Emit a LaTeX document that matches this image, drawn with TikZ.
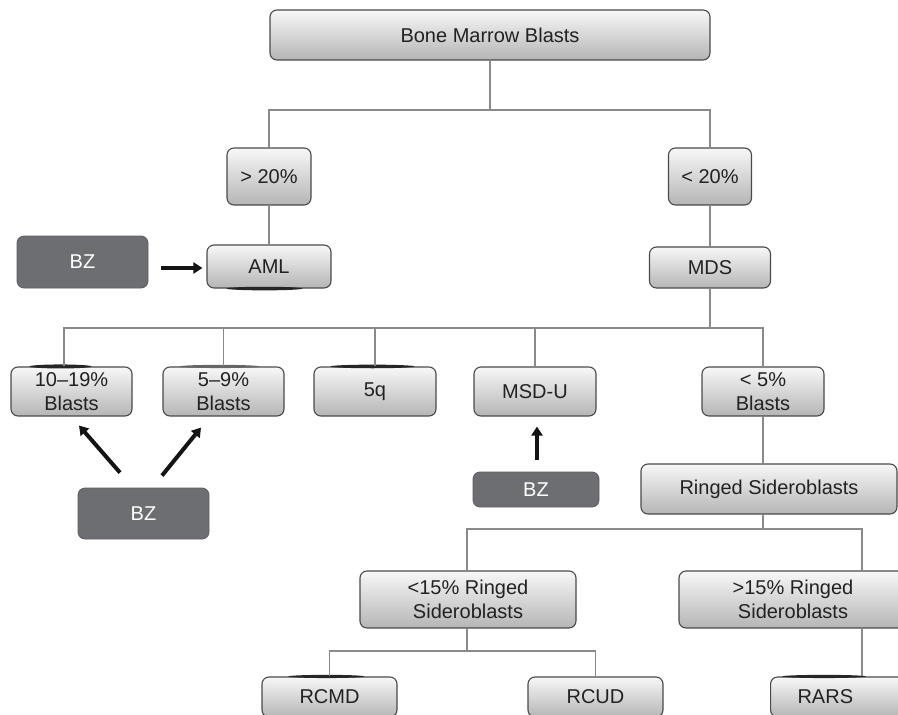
\documentclass[tikz,border=0pt]{standalone}
\usepackage{fontspec}
\setmainfont{Liberation Sans}
\usetikzlibrary{arrows.meta,calc}
\definecolor{bzgray}{HTML}{6D6E71}
\definecolor{linegray}{HTML}{8A8A8A}
\definecolor{boxedge}{HTML}{4A4A4A}
\definecolor{txt}{HTML}{222222}
\tikzset{
  gbox/.style={draw=boxedge, line width=1.1pt, rounded corners=7pt,
    top color=white!97!black, bottom color=black!29, inner sep=0pt,
    align=center, text=txt, font=\fontsize{20}{23.5}\selectfont},
  bzbox/.style={fill=bzgray, draw=bzgray!85!black, line width=0.8pt,
    rounded corners=7pt, inner sep=0pt, text=white,
    font=\fontsize{20}{23.5}\selectfont},
  conn/.style={draw=linegray, line width=1.2pt},
  arr/.style={draw=black!92, line width=4pt, -{Triangle[length=9pt,width=11pt]}},
  smudge/.style={fill=black!85},
  lightsmudge/.style={fill=black!60},
}
\begin{document}
\begin{tikzpicture}[x=1pt,y=-1pt]
\useasboundingbox (0,0) rectangle (898,715);
\clip (0,0) rectangle (898,715);
% nodes
\node[gbox, minimum width=440pt, minimum height=50pt] (bmb) at (490,35) {Bone Marrow Blasts};
\node[gbox, minimum width=84pt, minimum height=57pt] (gt20) at (269,176.5) {> 20\%};
\node[gbox, minimum width=83pt, minimum height=57pt] (lt20) at (710,176.5) {< 20\%};
\node[bzbox, minimum width=131pt, minimum height=52pt] (bz1) at (82.5,262) {BZ};
\node[gbox, minimum width=124pt, minimum height=43pt] (aml) at (269,266.5) {AML};
\node[gbox, minimum width=121pt, minimum height=41pt] (mds) at (710,267.5) {MDS};
\node[gbox, minimum width=121pt, minimum height=49pt] (b1019) at (71.5,391.5) {10–19\%\\Blasts};
\node[gbox, minimum width=121pt, minimum height=49pt] (b59) at (223.5,391.5) {5–9\%\\Blasts};
\node[gbox, minimum width=122pt, minimum height=49pt] (q5) at (375,391.5) {5q};
\node[gbox, minimum width=122pt, minimum height=49pt] (msdu) at (535,391.5) {MSD-U};
\node[gbox, minimum width=122pt, minimum height=49pt] (lt5) at (763,391.5) {< 5\%\\Blasts};
\node[bzbox, minimum width=131pt, minimum height=51pt] (bz2) at (143.5,513.5) {BZ};
\node[bzbox, minimum width=126pt, minimum height=35pt] (bz3) at (536,489.5) {BZ};
\node[gbox, minimum width=256pt, minimum height=50pt] (ring) at (769,489) {Ringed Sideroblasts};
\node[gbox, minimum width=216pt, minimum height=57pt] (lt15) at (468,599.5) {<15\% Ringed\\Sideroblasts};
\node[gbox, minimum width=228pt, minimum height=57pt] (gt15) at (793,599.5) {>15\% Ringed\\Sideroblasts};
\node[gbox, minimum width=135pt, minimum height=40pt] (rcmd) at (329.5,697) {RCMD};
\node[gbox, minimum width=135pt, minimum height=40pt] (rcud) at (595.5,697) {RCUD};
\node[gbox, minimum height=40pt, anchor=west, text width=80pt, inner xsep=27pt, align=left] (rars) at (770,697) {RARS};
% dark smudges along some box edges (as in the scan)
\fill[smudge] ($(b1019.north west)+(50,0)$) ellipse (31pt and 2pt);
\fill[lightsmudge] ($(b59.north west)+(57,0)$) ellipse (40pt and 1.6pt);
\fill[smudge] ($(q5.north west)+(59,0)$) ellipse (42pt and 1.8pt);
\fill[smudge] ($(aml.south west)+(58,0)$) ellipse (38pt and 1.8pt);
\fill[smudge] ($(rcmd.north west)+(65,0)$) ellipse (38pt and 1.6pt);
\fill[smudge] ($(rars.north west)+(54,0)$) ellipse (42pt and 1.6pt);
% junction coordinates
\coordinate (j1) at (490,110);
\coordinate (j2) at (710,328);
\coordinate (d1) at (64,328);
\coordinate (j3) at (763,529);
\coordinate (d7) at (862,529);
\coordinate (j4) at (467,651);
% connectors
\draw[conn] (bmb.south) -- (j1);
\draw[conn] (gt20.north) -- (gt20.north |- j1) -- (lt20.north |- j1) -- (lt20.north);
\draw[conn] (gt20.south) -- (aml.north);
\draw[conn] (lt20.south) -- (mds.north);
\draw[conn] (mds.south) -- (j2);
\draw[conn] (d1 |- b1019.north) -- (d1) -- (lt5.north |- j2) -- (lt5.north);
\draw[conn] (b59.north |- j2) -- (b59.north);
\draw[conn] (q5.north |- j2) -- (q5.north);
\draw[conn] (msdu.north |- j2) -- (msdu.north);
\draw[conn] (lt5.south) -- (lt5.south |- ring.north);
\draw[conn] (lt5.south |- ring.south) -- (j3);
\draw[conn] (lt15.north -| j4) -- (j4 |- j3) -- (d7) -- (d7 |- gt15.north);
\draw[conn] (lt15.south -| j4) -- (j4);
\draw[conn] (rcmd.north) -- (rcmd.north |- j4) -- (rcud.north |- j4) -- (rcud.north);
\draw[conn] (d7 |- gt15.south) -- (d7 |- rars.north);
% arrows
\draw[arr] ($(bz1.east)+(13,6)$) -- ($(aml.west)+(-4,1.5)$);
\draw[arr] ($(bz2.north)+(-23.5,-15)$) -- ($(b1019.south)+(7.5,9)$);
\draw[arr] ($(bz2.north)+(18.5,-12)$) -- ($(b59.south)+(-22.5,11)$);
\draw[arr] ($(bz3.north)+(1,-12)$) -- ($(msdu.south)+(2,10)$);
\end{tikzpicture}
\end{document}
